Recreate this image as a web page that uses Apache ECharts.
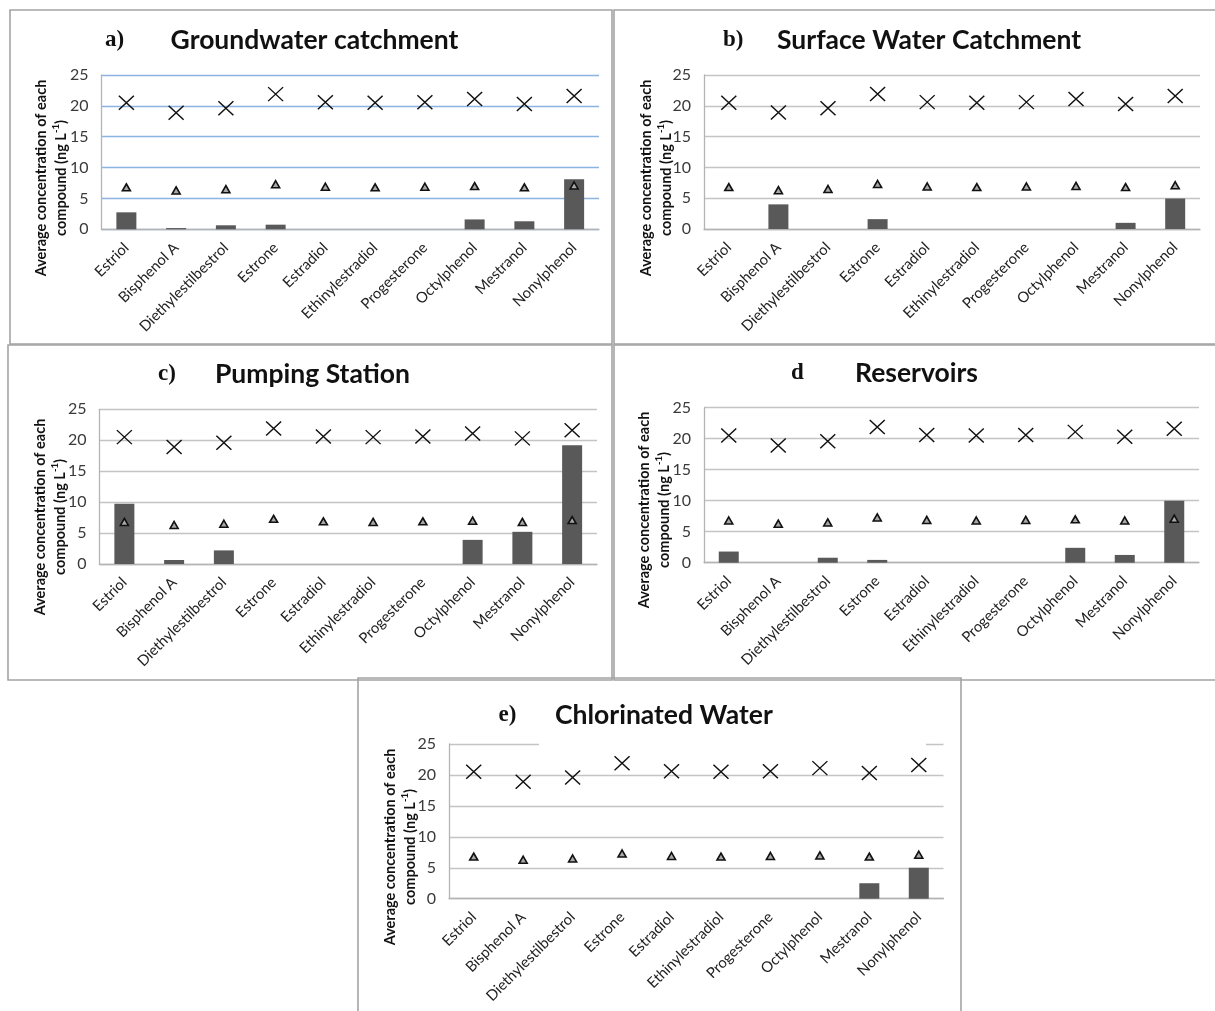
<!DOCTYPE html>
<html>
<head>
<meta charset="utf-8">
<script src="https://cdn.jsdelivr.net/npm/echarts@6/dist/echarts.min.js"></script>
<style>
html,body{margin:0;padding:0;background:#fff;}
#chart{width:1215px;height:1011px;}
</style>
</head>
<body>
<div id="chart"></div>
<script>
const categories = ['Estriol','Bisphenol A','Diethylestilbestrol','Estrone','Estradiol','Ethinylestradiol','Progesterone','Octylphenol','Mestranol','Nonylphenol'];
// cross markers (same in every panel)
const crossValues = [20.5, 18.9, 19.6, 21.9, 20.6, 20.5, 20.6, 21.1, 20.3, 21.6];
// triangle markers (same in every panel)
const triangleValues = [6.8, 6.3, 6.5, 7.3, 6.9, 6.8, 6.9, 7.0, 6.8, 7.1];
// average concentrations (bars)
const barsGroundwater = [2.75, 0.2, 0.65, 0.75, 0, 0, 0, 1.6, 1.3, 8.1];
const barsSurface     = [0, 4.0, 0, 1.6, 0, 0, 0, 0, 1.0, 4.95];
const barsPumping     = [9.75, 0.65, 2.2, 0, 0, 0, 0, 3.9, 5.2, 19.2];
const barsReservoirs  = [1.8, 0, 0.8, 0.45, 0, 0, 0, 2.4, 1.25, 10.0];
const barsChlorinated = [0, 0, 0, 0, 0, 0, 0, 0, 2.5, 5.0];
const panelLetters = ['a)', 'b)', 'c)', 'd', 'e)'];
const panelTitles = ['Groundwater catchment', 'Surface Water Catchment', 'Pumping Station', 'Reservoirs', 'Chlorinated Water'];
const yMin = 0, yMax = 25, yStep = 5;

const barSets = [barsGroundwater, barsSurface, barsPumping, barsReservoirs, barsChlorinated];

// layout (pixels)
const grids = [
  {left: 101.5, top: 75, width: 497.5, height: 154.3},
  {left: 704, top: 75, width: 496, height: 154},
  {left: 99.5, top: 409.3, width: 497.5, height: 154.7},
  {left: 704, top: 407.7, width: 495, height: 155},
  {left: 449, top: 744, width: 494.5, height: 154.7}
];
const boxes = [
  [10, 10, 602, 334], [614, 10, 610, 334], [8, 345, 604, 335], [614, 345, 610, 335], [358, 678, 603, 345]
];
const titlePos = [
  {lx: 105, tx: 170.6, y: 40}, {lx: 723, tx: 777, y: 40}, {lx: 158, tx: 215, y: 374},
  {lx: 791, tx: 855, y: 373}, {lx: 498.6, tx: 555, y: 715}
];
const yNamePos = [[51, 178], [656, 178], [50, 517], [654, 510], [400, 847]];
const gridColors = ['#8db3e2', '#c4c4c4', '#c4c4c4', '#c4c4c4', '#c4c4c4'];

const FONT = 'Lato, "Open Sans", sans-serif';

const option = {
  animation: false,
  backgroundColor: '#ffffff',
  grid: grids.map(g => Object.assign({containLabel: false}, g)),
  xAxis: grids.map((g, i) => ({
    type: 'category', gridIndex: i, data: categories, boundaryGap: true,
    axisLine: {show: true, lineStyle: {color: '#b4b4b4', width: 1.3}},
    axisTick: {show: false},
    axisLabel: {rotate: 45, margin: 16, fontSize: 14.8, color: '#222', fontFamily: FONT, interval: 0},
    splitLine: {show: false}
  })),
  yAxis: grids.map((g, i) => ({
    type: 'value', gridIndex: i, min: yMin, max: yMax, interval: yStep,
    axisLine: {show: true, lineStyle: {color: '#b4b4b4', width: 1.3}},
    axisTick: {show: false},
    axisLabel: {margin: 13, fontSize: 16, color: '#3a3a3a', fontFamily: FONT},
    splitLine: {show: true, lineStyle: {color: gridColors[i], width: 1.4}}
  })),
  series: [],
  graphic: []
};

barSets.forEach((bars, i) => {
  option.series.push({
    type: 'bar', xAxisIndex: i, yAxisIndex: i, data: bars, barWidth: 20,
    itemStyle: {color: '#595959'}, z: 2
  });
  option.series.push({
    type: 'scatter', xAxisIndex: i, yAxisIndex: i, data: triangleValues,
    symbol: 'triangle', symbolSize: [8, 7],
    itemStyle: {color: '#a8a8a8', borderColor: '#111', borderWidth: 1.6, opacity: 1}, z: 3
  });
  option.series.push({
    type: 'scatter', xAxisIndex: i, yAxisIndex: i, data: crossValues,
    symbol: 'path://M0,0L10,10M10,0L0,10', symbolSize: [15, 14],
    itemStyle: {color: 'none', borderColor: '#111', borderWidth: 1.4, opacity: 1}, z: 4
  });
});

// panel borders
boxes.forEach(b => {
  option.graphic.push({
    type: 'rect', shape: {x: b[0], y: b[1], width: b[2], height: b[3]},
    style: {fill: 'none', stroke: '#a4a4a4', lineWidth: 1.6}, z: -10, silent: true
  });
});
// white gap in the top gridline of panel e (as in the scanned original)
option.graphic.push({
  type: 'rect', shape: {x: 539, y: 742, width: 387, height: 4},
  style: {fill: '#ffffff'}, z: 100, silent: true
});

titlePos.forEach((p, i) => {
  option.graphic.push({
    type: 'text', x: p.lx, y: p.y, z: 50,
    style: {text: panelLetters[i], font: 'bold 23px "Liberation Serif", serif', fill: '#111',
      align: 'left', verticalAlign: 'middle', textAlign: 'left', textVerticalAlign: 'middle'}
  });
  option.graphic.push({
    type: 'text', x: p.tx, y: p.y, z: 50,
    style: {text: panelTitles[i], font: 'bold 26.5px ' + FONT, fill: '#111',
      align: 'left', verticalAlign: 'middle', textAlign: 'left', textVerticalAlign: 'middle'}
  });
});

yNamePos.forEach(p => {
  option.graphic.push({
    type: 'text', x: p[0], y: p[1], rotation: Math.PI / 2, z: 50,
    style: {
      text: 'Average concentration of each\ncompound (ng L{sup|-1})',
      font: 'bold 14.5px ' + FONT, fill: '#111', lineHeight: 20,
      align: 'center', verticalAlign: 'middle', textAlign: 'center', textVerticalAlign: 'middle',
      rich: {sup: {fontSize: 9.5, fontWeight: 'bold', fontFamily: FONT, verticalAlign: 'top', lineHeight: 20, padding: [0, 0, 6, 0]}}
    }
  });
});

const chart = echarts.init(document.getElementById('chart'), null, {renderer: 'canvas'});
chart.setOption(option);
</script>
</body>
</html>
